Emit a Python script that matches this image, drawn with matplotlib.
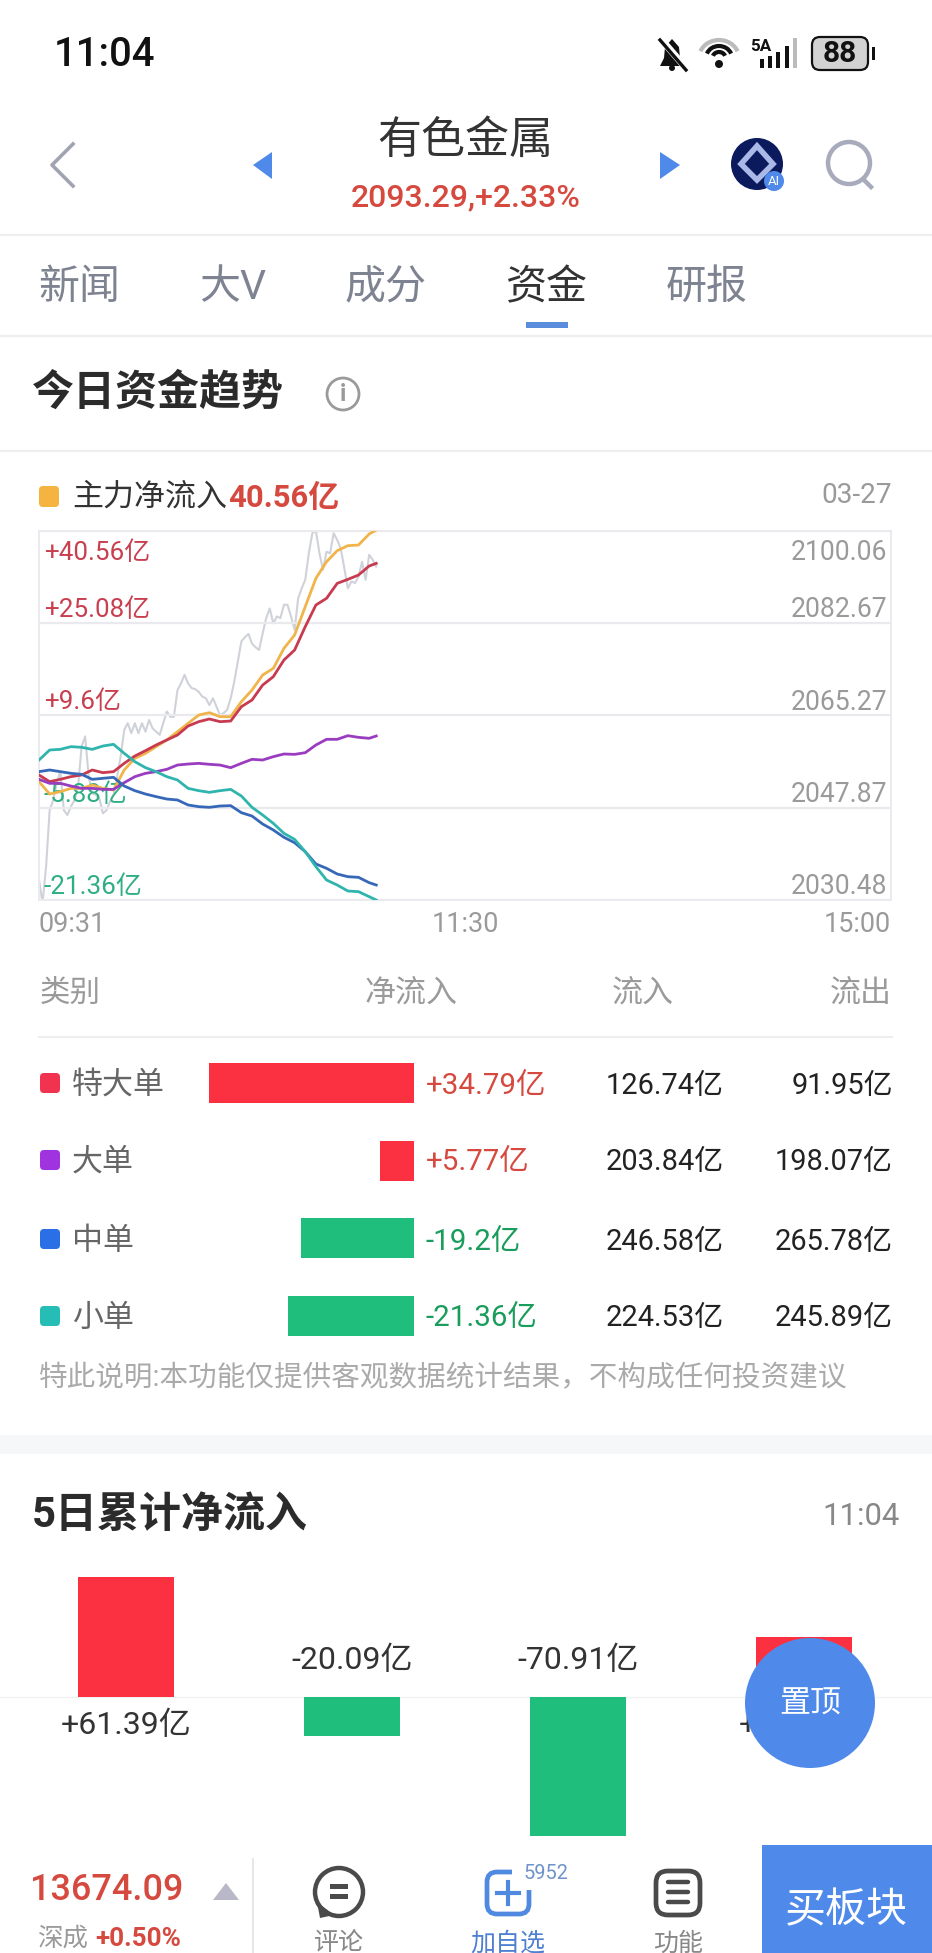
import numpy as np
import matplotlib
matplotlib.use('Agg')
import matplotlib.pyplot as plt
from matplotlib.patches import Circle, FancyBboxPatch, Polygon, Rectangle, Arc

plt.rcParams['font.family'] = ['Roboto', 'Noto Sans CJK SC', 'DejaVu Sans']

W, H = 932, 1953

# minute since 09:31, colour lines are read every 3 minutes
minutes = [0, 3, 6, 9, 12, 15, 18, 21, 24, 27, 30, 33, 36, 39, 42, 45, 48, 51, 54, 57,
           60, 63, 66, 69, 72, 75, 78, 81, 84, 87, 90, 93, 95]
main_flow = [-1.52, -3.59, -3.20, -2.64, -2.64, -2.08, -2.64, -2.92, 0.44, 2.39, 3.23, 4.35, 5.47, 6.86, 8.26,
             9.65, 10.05, 9.38, 9.38, 11.89, 13.85, 16.36, 17.48, 20.83, 23.07, 27.82, 32.57, 35.36, 37.21,
             38.05, 38.16, 40.0, 40.67]
huge_flow = [-0.40, -1.52, -1.13, -0.68, -0.40, 0.44, -0.01, 0.16, 1.55, 2.78, 3.68, 4.63, 5.47, 6.30, 7.81,
             8.54, 8.99, 8.54, 8.65, 11.05, 12.17, 14.68, 16.08, 18.88, 20.55, 24.47, 28.10, 29.22, 31.73,
             32.40, 33.13, 34.64, 35.08]
big_flow = [-1.13, -1.80, -1.80, -2.25, -2.64, -2.64, -2.81, -2.81, -1.69, -0.68, -0.12, 0.16, 0.55, 1.27, 1.44,
            1.55, 1.39, 1.27, 0.83, 1.55, 2.23, 2.11, 2.67, 3.12, 3.06, 3.34, 4.63, 5.58, 5.58, 6.19, 5.91,
            5.75, 6.14]
mid_flow = [0.16, 0.44, 0.16, -0.12, -0.29, -1.13, -0.96, -0.79, -2.25, -3.03, -3.59, -4.03, -4.43, -4.59, -5.43,
            -5.71, -5.82, -5.60, -5.54, -6.72, -7.28, -8.62, -9.62, -10.85, -11.75, -13.26, -15.32, -16.05,
            -17.0, -17.45, -17.56, -18.45, -18.85]
small_flow = [2.11, 3.79, 3.90, 4.35, 4.24, 3.90, 4.46, 4.74, 3.23, 1.83, 0.83, 0.16, -0.68, -1.24, -2.64,
              -3.03, -3.31, -3.03, -2.81, -3.92, -5.82, -7.11, -8.51, -10.18, -11.19, -13.26, -15.77, -18.01,
              -18.85, -19.85, -19.96, -20.80, -21.36]
# index, one value a minute from 09:31
index_price = [2034.3, 2029.9, 2036.8, 2047.4, 2049.3, 2052.5, 2054.7, 2047.4, 2046.5, 2048.1, 2049.3, 2051.8,
               2059.4, 2061.3, 2053.7, 2050.6, 2050.3, 2049.6, 2046.8, 2047.4, 2049.0, 2050.3, 2053.7, 2057.5,
               2062.5, 2063.8, 2061.9, 2063.8, 2061.9, 2063.8, 2062.2, 2064.4, 2062.8, 2062.2, 2061.6, 2063.8,
               2066.0, 2065.0, 2065.0, 2070.0, 2071.3, 2072.9, 2071.3, 2070.4, 2070.2, 2069.7, 2068.8, 2068.5,
               2067.2, 2068.5, 2066.9, 2065.3, 2065.7, 2066.3, 2068.5, 2071.6, 2075.4, 2079.2, 2080.0, 2080.6,
               2078.8, 2078.1, 2077.6, 2080.7, 2083.6, 2085.4, 2082.6, 2083.9, 2083.6, 2086.1, 2086.1, 2083.9,
               2081.4, 2087.3, 2089.2, 2090.8, 2095.8, 2099.6, 2100.06, 2095.8, 2092.7, 2096.1, 2095.8, 2099.6,
               2098.3, 2096.7, 2093.0, 2089.2, 2090.5, 2090.2, 2091.4, 2094.2, 2090.8, 2095.5, 2094.6, 2093.3]

flow_ticks = [40.56, 25.08, 9.6, -5.88, -21.36]
flow_labels = ['+40.56亿', '+25.08亿', '+9.6亿', '-5.88亿', '-21.36亿']
price_ticks = [2100.06, 2082.67, 2065.27, 2047.87, 2030.48]
time_ticks = [0, 120, 240]
time_labels = ['09:31', '11:30', '15:00']

# table
order_types = ['特大单', '大单', '中单', '小单']
net_flow = [34.79, 5.77, -19.2, -21.36]
net_labels = ['+34.79亿', '+5.77亿', '-19.2亿', '-21.36亿']
inflow = ['126.74亿', '203.84亿', '246.58亿', '224.53亿']
outflow = ['91.95亿', '198.07亿', '265.78亿', '245.89亿']
type_colors = ['#f23350', '#a033e0', '#2a6fe5', '#25bdb5']

# 5 day
day_flow = [61.39, -20.09, -70.91, 30.42]
day_labels = ['+61.39亿', '-20.09亿', '-70.91亿', '+30.42亿']

RED = '#d5493f'
BAR_RED = '#fb3040'
BAR_GREEN = '#1fbe7c'
BLUE = '#4f8aea'
GRAY = '#9a9a9a'
LINE = '#e9e9ee'


def px(size):
    return size * 0.72


def px_axes(x0, y0, x1, y1, z):
    a = fig.add_axes([x0 / W, 1 - y1 / H, (x1 - x0) / W, (y1 - y0) / H])
    a.set_zorder(z)
    return a


def T(a, x, y, s, size, color='#333333', ha='center', weight='normal'):
    # the centre of these fonts sits a little high
    a.text(x, y + 2.5, s, fontsize=px(size), color=color, ha=ha, va='center', fontweight=weight)


fig = plt.figure(figsize=(W / 100, H / 100), dpi=100, facecolor='white')

ui = px_axes(0, 0, W, H, 0)
ui.set_xlim(0, W)
ui.set_ylim(H, 0)
ui.axis('off')

# status bar
T(ui, 54, 52, '11:04', 40, '#111111', ha='left', weight='medium')
ui.add_patch(Polygon([(660, 66), (684, 66), (680, 58), (679, 47), (672, 39), (665, 47), (664, 58)], fc='#111111'))
ui.add_patch(Circle((672, 68), 3, fc='#111111'))
ui.plot([660, 686], [38, 68], color='white', lw=5)
ui.plot([660, 686], [40, 70], color='#111111', lw=2.4)
ui.add_patch(Arc((719, 58), 40, 36, theta1=200, theta2=340, color='#bbbbbb', lw=3))
ui.add_patch(Arc((719, 58), 26, 24, theta1=200, theta2=340, color='#111111', lw=3))
ui.add_patch(Arc((719, 58), 13, 12, theta1=200, theta2=340, color='#111111', lw=3))
ui.add_patch(Circle((719, 64), 4, fc='#111111'))
T(ui, 761, 44, '5A', 17, '#111111', weight='bold')
for bx, bt, bc in zip([760, 768, 776, 785, 793], [59, 56, 52, 46, 38], ['#111111'] * 4 + ['#bbbbbb']):
    ui.add_patch(Rectangle((bx, bt), 3.5, 68 - bt, fc=bc))
ui.add_patch(FancyBboxPatch((815, 40), 50, 27, boxstyle='round,pad=3,rounding_size=8', fc='#d2d2d2', ec='#111111', lw=1.6))
ui.add_patch(Rectangle((872, 47), 3, 13, fc='#111111'))
T(ui, 840, 52, '88', 30, '#111111', weight='bold')

# header
T(ui, 465, 138, '有色金属', 44, '#333333')
T(ui, 466, 195, '2093.29,+2.33%', 32, RED, weight='medium')
ui.plot([73, 52, 73], [144, 165, 186], color='#a0a4b2', lw=2.6)
ui.add_patch(Polygon([(272, 152), (272, 179), (253, 165)], fc=BLUE))
ui.add_patch(Polygon([(660, 152), (660, 179), (680, 165)], fc=BLUE))
ui.add_patch(Circle((757, 164), 26, fc='#0b1a5c'))
ui.add_patch(Polygon([(757, 146), (773, 164), (757, 180), (741, 164)], fc='#0b1a5c', ec='#a9b8e6', lw=4))
ui.add_patch(Circle((774, 181), 10, fc=BLUE))
T(ui, 774, 179, 'AI', 13, 'white')
ui.add_patch(Circle((849, 163), 21, fc='none', ec='#a7abbb', lw=3.2))
ui.plot([863, 871], [179, 187], color='#a7abbb', lw=3.2)
ui.plot([0, W], [235, 235], color='#eeeeee', lw=1.5)

# tabs
for tab, tx in zip(['新闻', '大V', '成分', '研报'], [79, 233, 386, 707]):
    T(ui, tx, 285, tab, 41, '#7d8390')
T(ui, 547, 285, '资金', 41, '#333333')
ui.add_patch(Rectangle((526, 322), 42, 6, fc='#5b8ddd'))
ui.plot([0, W], [336, 336], color='#eeeeee', lw=1.5)

# today's flow
T(ui, 32, 391, '今日资金趋势', 42, '#2b2b2b', ha='left', weight='bold')
ui.add_patch(Circle((343, 394), 16, fc='none', ec=GRAY, lw=2))
T(ui, 343, 392, 'i', 24, GRAY, weight='bold')
ui.plot([0, W], [451, 451], color='#eeeeee', lw=1.5)
ui.add_patch(FancyBboxPatch((41, 488), 16, 17, boxstyle='round,pad=2,rounding_size=4', fc='#f5b33f', ec='none'))
T(ui, 72, 495, '主力净流入', 31, '#333333', ha='left')
T(ui, 228, 495, '40.56亿', 31, RED, ha='left', weight='bold')
T(ui, 892, 493, '03-27', 28, GRAY, ha='right')

# trend chart
ax_p = px_axes(39, 530.7, 891, 900, 1)
ax_p.set_xlim(0, 240)
ax_p.set_ylim(price_ticks[-1], price_ticks[0])
ax_p.plot(range(len(index_price)), index_price, color='#d0d2da', lw=1.5)
ax_p.set_yticks([])
ax_p.set_xticks([])
for s in ax_p.spines.values():
    s.set_visible(False)
for v in price_ticks:
    off = -22 if v == price_ticks[0] else 13
    ax_p.annotate(f'{v:.2f}', (240, v), xytext=(-4, off), textcoords='offset pixels', ha='right', va='center',
                  fontsize=px(26.5), color=GRAY)

ax = px_axes(39, 530.7, 891, 900, 2)
ax.patch.set_visible(False)
ax.set_xlim(0, 240)
ax.set_ylim(flow_ticks[-1], flow_ticks[0])
ax.set_yticks(flow_ticks)
ax.set_yticklabels([])
ax.set_xticks(time_ticks)
ax.set_xticklabels(time_labels, fontsize=px(27), color=GRAY)
for lab, ha in zip(ax.get_xticklabels(), ['left', 'center', 'right']):
    lab.set_ha(ha)
ax.tick_params(length=0, pad=8)
ax.grid(axis='y', color=LINE, lw=1.6)
for s in ax.spines.values():
    s.set_color(LINE)
    s.set_linewidth(1.3)
for v, lab in zip(flow_ticks, flow_labels):
    off = -22 if v == flow_ticks[0] else 13
    ax.annotate(lab, (0, v), xytext=(5, off), textcoords='offset pixels', ha='left', va='center',
                fontsize=px(26), color='#c8404f' if v > 0 else '#2fae84', zorder=1)
for series, c in zip([main_flow, huge_flow, big_flow, mid_flow, small_flow],
                     ['#f0b44a', '#c83a50', '#9a3cc0', '#3668b8', '#30b5ae']):
    ax.plot(minutes, series, color=c, lw=2.0, zorder=3)

# table
T(ui, 40, 991, '类别', 30.5, GRAY, ha='left')
T(ui, 411, 991, '净流入', 31, GRAY)
T(ui, 643, 991, '流入', 31, GRAY)
T(ui, 892, 991, '流出', 31, GRAY, ha='right')
ui.plot([39, 892], [1037, 1037], color='#eeeeee', lw=1.5)

row_y = [1083, 1160, 1239, 1316]
ax_t = px_axes(39, 1044, 414, 1355, 1)
ax_t.patch.set_visible(False)
ax_t.set_xlim(375 / 5.89, 0)
ax_t.set_ylim(3.5, -0.5)
ax_t.barh(range(4), np.abs(net_flow), height=0.515,
          color=[BAR_RED if v > 0 else BAR_GREEN for v in net_flow])
ax_t.axis('off')
for i in range(4):
    y = row_y[i]
    ui.add_patch(FancyBboxPatch((42, y - 8), 16, 16, boxstyle='round,pad=2,rounding_size=4', fc=type_colors[i], ec='none'))
    T(ui, 72, y, order_types[i], 31, '#666666', ha='left')
    T(ui, 426, y, net_labels[i], 29.5, RED if net_flow[i] > 0 else '#1a9c5c', ha='left')
    T(ui, 606, y, inflow[i], 29, '#222222', ha='left')
    T(ui, 893, y, outflow[i], 29, '#222222', ha='right')
T(ui, 39, 1376, '特此说明:本功能仅提供客观数据统计结果，不构成任何投资建议', 28.6, '#aaaaaa', ha='left')
ui.add_patch(Rectangle((0, 1435), W, 19, fc='#f6f7f9'))

# 5 day
T(ui, 32, 1513, '5日累计净流入', 42, '#2b2b2b', ha='left', weight='bold')
T(ui, 900, 1514, '11:04', 31, '#888888', ha='right')
ui.plot([0, W], [1697, 1697], color='#f2f2f2', lw=1)
ax_d = px_axes(13, 1559, 916.7, 1844, 1)
ax_d.patch.set_visible(False)
ax_d.set_xlim(-0.5, 3.5)
ax_d.set_ylim(-147 / 1.96, 138 / 1.96)
ax_d.bar(range(4), day_flow, width=0.423, color=[BAR_RED if v > 0 else BAR_GREEN for v in day_flow])
ax_d.axis('off')
for i, v in enumerate(day_flow):
    off = -28 if v > 0 else 37
    ax_d.annotate(day_labels[i], (i, 0), xytext=(0, off), textcoords='offset pixels', ha='center', va='center',
                  fontsize=px(32), color='#333333')

# overlay: float button and bottom bar
top = px_axes(0, 0, W, H, 5)
top.patch.set_visible(False)
top.set_xlim(0, W)
top.set_ylim(H, 0)
top.axis('off')
top.add_patch(Circle((810, 1703), 65, fc=BLUE))
T(top, 810, 1702, '置顶', 31, 'white')

top.add_patch(Rectangle((0, 1850), 762, 103, fc='white'))
T(top, 30, 1888, '13674.09', 36, RED, ha='left', weight='medium')
top.add_patch(Polygon([(213, 1900), (239, 1900), (226, 1883)], fc='#b8b8c8'))
T(top, 37, 1936, '深成', 25.5, GRAY, ha='left')
T(top, 95, 1936, '+0.50%', 26, RED, ha='left', weight='bold')
top.plot([253, 253], [1859, 1953], color='#e5e5e5', lw=1.3)

# comment icon
top.add_patch(Circle((339, 1892), 24, fc='none', ec='#4a4a4a', lw=3.2))
top.add_patch(Polygon([(317, 1902), (320, 1918), (334, 1915)], fc='#4a4a4a'))
top.add_patch(Rectangle((330, 1884), 18, 5, fc='#4a4a4a'))
top.add_patch(Rectangle((330, 1894), 18, 5, fc='#4a4a4a'))
T(top, 339, 1941, '评论', 25, '#888888')
# add-to-watchlist icon
top.add_patch(FancyBboxPatch((487, 1872), 42, 42, boxstyle='round,pad=0,rounding_size=10', fc='none', ec='#4f8ae0', lw=3.4))
top.add_patch(Rectangle((512, 1866), 22, 24, fc='white'))
top.plot([497, 519], [1893, 1893], color='#4f8ae0', lw=3)
top.plot([508, 508], [1882, 1904], color='#4f8ae0', lw=3)
T(top, 546, 1871, '5952', 20, '#6f93c8')
T(top, 508, 1941, '加自选', 25, '#4f7fd0')
# more icon
top.add_patch(FancyBboxPatch((656, 1871), 44, 44, boxstyle='round,pad=0,rounding_size=12', fc='none', ec='#4a4a4a', lw=3.4))
for ly in [1882, 1892, 1902]:
    top.plot([668, 688], [ly, ly], color='#4a4a4a', lw=3.2, solid_capstyle='round')
T(top, 678, 1941, '功能', 25, '#888888')
top.add_patch(Rectangle((762, 1845), 170, 108, fc=BLUE))
T(top, 846, 1908, '买板块', 41, 'white')

fig.savefig('out.png', dpi=100, facecolor='white')
